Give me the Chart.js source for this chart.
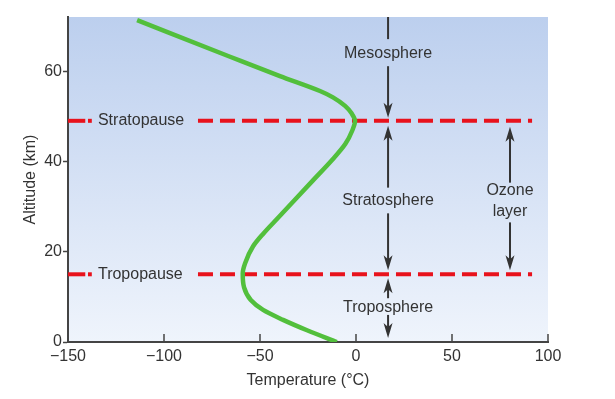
<!DOCTYPE html>
<html>
<head>
<meta charset="utf-8">
<title>Temperature and altitude</title>
<script src="https://cdn.jsdelivr.net/npm/chart.js@4/dist/chart.umd.min.js"></script>
<style>
  html, body { margin: 0; padding: 0; background: #fff; }
</style>
</head>
<body>
<canvas id="myChart" width="615" height="399"></canvas>
<script>
// temperature profile
const altitudeKm = [71.3, 63.2, 58.9, 55.6, 54.2, 52.3, 50.6, 49, 46.8, 43.9, 40.2, 35.8, 31.3, 27.7, 24.0, 21.2, 17.4, 15.2, 12.1, 9.3, 7.1, 4.9, 2.6, 0]
const temperatureC = [-114, -65.6, -39.6, -18.75, -12, -5.7, -2.2, -0.5, -2.0, -5.5, -12.7, -22.4, -32.3, -40.2, -48.3, -53.6, -57.8, -59.0, -58.3, -54.8, -48.4, -38.0, -25.5, -10]

const xTicks = [-150, -100, -50, 0, 50, 100]
const yTicks = [0, 20, 40, 60]

// boundaries (km) and the pieces of each dashed line (°C)
const stratopauseKm = 49
const tropopauseKm = 15
const leadDash = [-150, -141]
const leadDot = [-139.6, -137.6]
const longDash = [-82.3, 91.7]

// text: [label, °C, km]
const boundaryLabels = [["Stratopause", -134.4, stratopauseKm], ["Tropopause", -134.4, tropopauseKm]]
const layerLabels = [
    ["Mesosphere", 16.7, 64],
    ["Stratosphere", 16.7, 31.3],
    ["Troposphere", 16.7, 7.7],
    ["Ozone", 80.2, 33.6],
    ["layer", 80.2, 28.9]
]
// arrows: [°C, from km, tip km]
const arrows = [
    [16.7, 61.1, 49.7],
    [16.7, 34.2, 47.9],
    [16.7, 28.5, 15.9],
    [16.7, 9.7, 14.1],
    [16.7, 6.0, 0.9],
    [80.2, 35.3, 47.7],
    [80.2, 26.5, 15.9]
]
const topLine = [16.7, 72, 67.1]

const ink = "#333333"
const axisGrey = "#444444"
const red = "#e8121c"
const font = '"Liberation Sans", Arial, sans-serif'

Chart.defaults.font.family = font
Chart.defaults.color = ink

function seg(a, b, km) {
    return [{ x: a, y: km }, { x: b, y: km }]
}

function redLine(points) {
    return {
        data: points,
        showLine: true,
        borderColor: red,
        borderWidth: 4,
        borderDash: [15, 7],
        borderCapStyle: "butt",
        pointRadius: 0,
        order: 2
    }
}

function redPiece(points) {
    let d = redLine(points)
    d.borderDash = []
    return d
}

function fmt(v) {
    return v < 0 ? "\u2212" + Math.abs(v) : String(v)
}

function drawArrow(ctx, x, y1, y2) {
    const dir = y2 > y1 ? 1 : -1
    ctx.beginPath()
    ctx.moveTo(x, y1)
    ctx.lineTo(x, y2 - dir * 10)
    ctx.stroke()
    ctx.beginPath()
    ctx.moveTo(x, y2)
    ctx.lineTo(x - 4.5, y2 - dir * 15)
    ctx.lineTo(x, y2 - dir * 11)
    ctx.lineTo(x + 4.5, y2 - dir * 15)
    ctx.closePath()
    ctx.fill()
}

const backdrop = {
    id: "backdrop",
    beforeDraw(chart) {
        const { ctx, chartArea: a } = chart
        ctx.save()
        ctx.fillStyle = "#ffffff"
        ctx.fillRect(0, 0, chart.width, chart.height)
        const g = ctx.createLinearGradient(0, a.top, 0, a.bottom)
        g.addColorStop(0, "#bccfee")
        g.addColorStop(1, "#eff4fc")
        ctx.fillStyle = g
        ctx.fillRect(a.left, a.top, a.right - a.left, a.bottom - a.top)
        ctx.restore()
    }
}

const notes = {
    id: "notes",
    afterDatasetsDraw(chart) {
        const { ctx, scales: { x, y }, chartArea: a } = chart
        ctx.save()

        // x ticks point up into the plot
        ctx.strokeStyle = axisGrey
        ctx.lineWidth = 1.5
        xTicks.slice(1).forEach(function (v) {
            const px = x.getPixelForValue(v)
            ctx.beginPath()
            ctx.moveTo(px, a.bottom)
            ctx.lineTo(px, a.bottom - 8)
            ctx.stroke()
        })

        ctx.strokeStyle = ink
        ctx.fillStyle = ink
        ctx.lineWidth = 2
        ctx.beginPath()
        ctx.moveTo(x.getPixelForValue(topLine[0]), y.getPixelForValue(topLine[1]))
        ctx.lineTo(x.getPixelForValue(topLine[0]), y.getPixelForValue(topLine[2]))
        ctx.stroke()
        arrows.forEach(function (r) {
            drawArrow(ctx, x.getPixelForValue(r[0]), y.getPixelForValue(r[1]), y.getPixelForValue(r[2]))
        })

        ctx.font = "16px " + font
        ctx.textBaseline = "middle"
        ctx.textAlign = "left"
        boundaryLabels.forEach(function (t) {
            ctx.fillText(t[0], x.getPixelForValue(t[1]), y.getPixelForValue(t[2]))
        })
        ctx.textAlign = "center"
        layerLabels.forEach(function (t) {
            ctx.fillText(t[0], x.getPixelForValue(t[1]), y.getPixelForValue(t[2]))
        })
        ctx.restore()
    }
}

const profile = altitudeKm.map(function (km, i) {
    return { x: temperatureC[i], y: km }
})

new Chart(document.getElementById("myChart").getContext("2d"), {
    type: "scatter",
    data: {
        datasets: [
            {
                data: profile,
                showLine: true,
                borderColor: "#52bf3c",
                borderWidth: 4.5,
                indexAxis: "y",
                cubicInterpolationMode: "monotone",
                pointRadius: 0,
                order: 1
            },
            redLine(seg(longDash[0], longDash[1], stratopauseKm)),
            redPiece(seg(leadDash[0], leadDash[1], stratopauseKm)),
            redPiece(seg(leadDot[0], leadDot[1], stratopauseKm)),
            redLine(seg(longDash[0], longDash[1], tropopauseKm)),
            redPiece(seg(leadDash[0], leadDash[1], tropopauseKm)),
            redPiece(seg(leadDot[0], leadDot[1], tropopauseKm))
        ]
    },
    options: {
        responsive: false,
        devicePixelRatio: 1,
        animation: false,
        layout: { padding: { top: 17, right: 67, bottom: 0, left: 0 } },
        plugins: { legend: { display: false }, tooltip: { enabled: false } },
        scales: {
            x: {
                type: "linear",
                min: -150,
                max: 100,
                afterBuildTicks: function (s) { s.ticks = xTicks.map(function (v) { return { value: v } }) },
                afterFit: function (s) { s.height = 57 },
                grid: { display: false, drawTicks: false },
                border: { color: axisGrey, width: 2 },
                ticks: { padding: 5, font: { size: 16 }, color: ink, callback: fmt, maxRotation: 0 },
                title: { display: true, text: "Temperature (°C)", font: { size: 16 }, color: ink, padding: { top: 0, bottom: 9 } }
            },
            y: {
                type: "linear",
                min: 0,
                max: 72,
                afterBuildTicks: function (s) { s.ticks = yTicks.map(function (v) { return { value: v } }) },
                afterFit: function (s) { s.width = 68 },
                grid: { drawOnChartArea: false, tickLength: 5, color: axisGrey, tickWidth: 1.5 },
                border: { color: axisGrey, width: 2 },
                ticks: { padding: 1, font: { size: 16 }, color: ink },
                title: { display: true, text: "Altitude (km)", font: { size: 16 }, color: ink, padding: { top: 21, bottom: 0 } }
            }
        }
    },
    plugins: [backdrop, notes]
})
</script>
</body>
</html>
